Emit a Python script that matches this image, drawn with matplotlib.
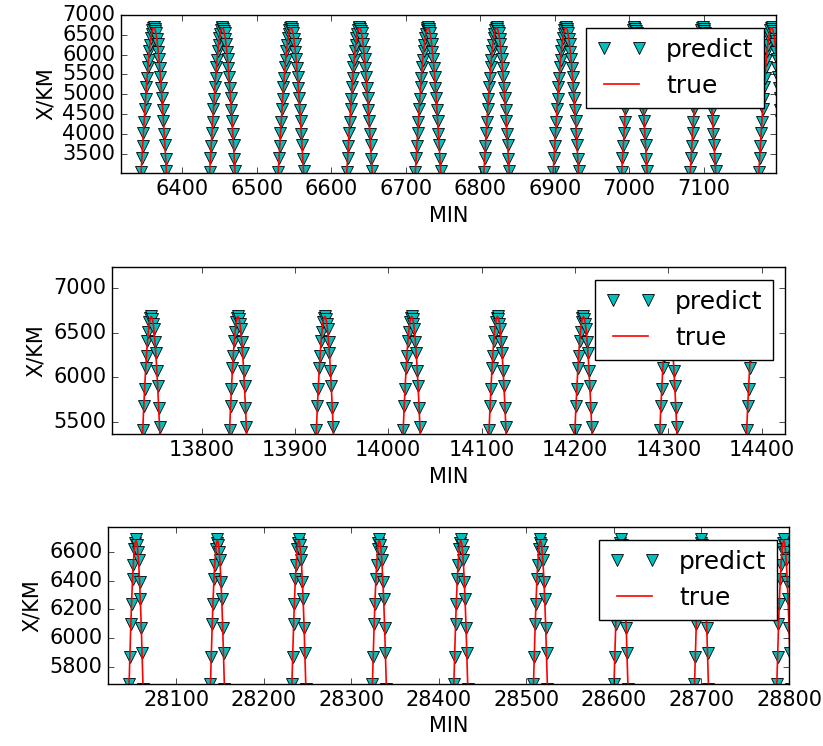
import numpy as np
import matplotlib
matplotlib.use('Agg')
import matplotlib.pyplot as plt

plt.style.use('classic')
plt.rcParams['font.size'] = 15

# minutes from the top of each pass
offsets = list(range(-19, 20))

# X value, from the peak outwards (one sample per minute)
true_half = [6680, 6662, 6609, 6522, 6404, 6257, 6084, 5886, 5666, 5426,
             5168, 4895, 4609, 4312, 4006, 3693, 3376, 3054, 2730, 2400]
pred_left = [6690, 6660, 6620, 6510, 6410, 6240, 6100, 5870, 5680, 5410,
             5180, 4880, 4620, 4290, 4020, 3680, 3390, 3040, 2740, 2410]
pred_right = [6690, 6650, 6600, 6540, 6390, 6270, 6070, 5900, 5650, 5440,
              5150, 4910, 4590, 4330, 3990, 3710, 3360, 3070, 2720, 2390]

# times (MIN) of the peaks in each panel
peaks_top = [6362, 6454, 6546, 6638, 6730, 6822, 6915, 7007, 7099, 7191]
peaks_mid = [13746, 13839, 13932, 14025, 14117, 14209, 14300, 14393]
peaks_bot = [28054, 28147, 28240, 28332, 28425, 28516, 28608, 28700, 28794]

true_full = true_half[::-1] + true_half[1:]
pred_full = pred_left[::-1] + pred_right[1:]


def build(peaks, profile, stop=None):
    t, v = [], []
    for i, p in enumerate(peaks):
        for k, val in zip(offsets, profile):
            if stop is not None and i == len(peaks) - 1 and k > stop:
                break
            t.append(p + k)
            v.append(val)
        t.append(np.nan)
        v.append(np.nan)
    return np.array(t, dtype=float), np.array(v, dtype=float)


panels = [
    (peaks_top, None, (6318, 7197), (3010, 7000), None, [121, 15, 776, 173]),
    (peaks_mid, 0, (13704, 14425), (5362, 7235), [5500, 6000, 6500, 7000], [112, 267, 785, 434]),
    (peaks_bot, None, (28022, 28800), (5683, 6772), None, [108, 527, 789, 684]),
]

W, H = 823, 746
fig = plt.figure(figsize=(W / 100, H / 100), dpi=100)
fig.patch.set_facecolor('white')

for peaks, stop, xl, yl, yt, box in panels:
    x0, y0, x1, y1 = box
    ax = fig.add_axes([x0 / W, 1 - y1 / H, (x1 - x0) / W, (y1 - y0) / H])
    tp, vp = build(peaks, pred_full, stop)
    tt, vt = build(peaks, true_full, stop)
    ax.plot(tp, vp, 'cv', markersize=8, markeredgewidth=0.6, label='predict')
    ax.plot(tt, vt, 'r-', linewidth=1.2, label='true')
    ax.set_xlim(*xl)
    ax.set_ylim(*yl)
    if yt is not None:
        ax.set_yticks(yt)
    ax.ticklabel_format(useOffset=False, style='plain')
    ax.set_xlabel('MIN')
    ax.set_ylabel('X/KM')
    ax.legend(loc='upper right')

fig.savefig('out.png', dpi=100, facecolor='white')
